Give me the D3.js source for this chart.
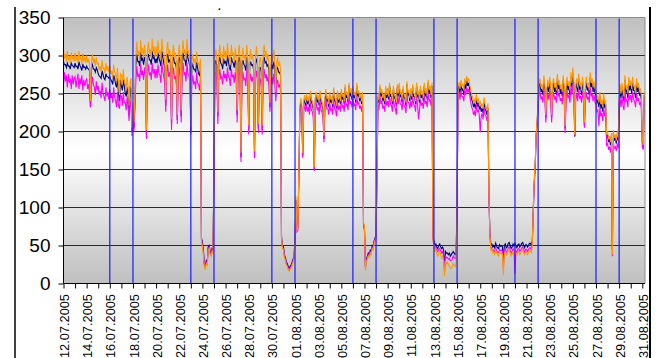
<!DOCTYPE html>
<html>
<head>
<meta charset="utf-8">
<script src="https://cdn.jsdelivr.net/npm/d3@7"></script>
<style>
  body { margin: 0; background: #fff; }
  svg text { font-family: "Liberation Sans", Arial, sans-serif; }
</style>
</head>
<body>
<div class="chart"></div>
<script>
// One row per day from 12.07.2005, readings every 2 hours (00h, 02h, ... 22h)
const startDate = "12.07.2005";
const stepHours = 2;

const orange = [
  [308, 296, 302, 292, 306, 294, 300, 290, 304, 295, 300, 292],
  [304, 293, 300, 290, 306, 295, 298, 288, 303, 292, 299, 290],
  [300, 291, 296, 288, 240, 292, 302, 290, 296, 286, 298, 289],
  [290, 281, 286, 278, 294, 283, 284, 276, 290, 280, 286, 278],
  [286, 276, 280, 270, 288, 278, 276, 266, 284, 262, 248, 276],
  [274, 262, 282, 268, 264, 254, 272, 258, 234, 266, 270, 205],
  [238, 212, 248, 296, 318, 300, 306, 294, 320, 302, 310, 296],
  [314, 300, 202, 306, 318, 302, 308, 296, 322, 304, 312, 298],
  [312, 298, 320, 304, 306, 294, 322, 305, 304, 292, 242, 306],
  [318, 300, 308, 296, 216, 302, 314, 298, 304, 292, 222, 300],
  [314, 298, 228, 304, 320, 302, 308, 294, 322, 304, 306, 294],
  [206, 292, 302, 290, 296, 286, 305, 292, 290, 282, 296, 56],
  [48, 38, 22, 18, 26, 24, 44, 46, 38, 36, 42, 40],
  [160, 302, 308, 294, 226, 300, 314, 298, 302, 290, 312, 298],
  [306, 294, 316, 300, 298, 288, 314, 300, 304, 292, 310, 296],
  [228, 298, 314, 300, 172, 296, 310, 296, 300, 288, 314, 298],
  [208, 294, 308, 295, 302, 290, 174, 298, 312, 296, 210, 292],
  [298, 286, 208, 300, 314, 298, 306, 294, 302, 288, 238, 290],
  [302, 290, 308, 294, 252, 290, 298, 286, 292, 282, 60, 46],
  [44, 34, 30, 24, 22, 18, 16, 19, 20, 24, 28, 32],
  [58, 115, 70, 72, 150, 232, 244, 236, 172, 240, 248, 238],
  [250, 240, 246, 236, 254, 242, 240, 232, 153, 244, 252, 242],
  [248, 238, 254, 242, 240, 232, 194, 244, 256, 244, 246, 236],
  [252, 242, 246, 236, 258, 244, 244, 234, 254, 242, 250, 240],
  [256, 246, 250, 240, 262, 248, 252, 242, 264, 250, 257, 246],
  [260, 248, 252, 242, 264, 250, 254, 244, 250, 240, 252, 80],
  [75, 17, 28, 32, 36, 34, 40, 38, 46, 44, 52, 56],
  [62, 150, 250, 242, 262, 250, 256, 244, 250, 240, 260, 248],
  [257, 246, 264, 250, 250, 240, 260, 248, 247, 238, 262, 250],
  [264, 250, 252, 242, 260, 248, 248, 238, 266, 252, 254, 244],
  [257, 246, 262, 250, 250, 240, 264, 250, 252, 242, 260, 248],
  [254, 244, 264, 250, 257, 246, 268, 254, 260, 248, 264, 56],
  [50, 42, 46, 38, 36, 40, 42, 38, 34, 36, 30, 10],
  [30, 26, 28, 24, 24, 20, 20, 22, 26, 24, 22, 26],
  [110, 262, 264, 256, 268, 260, 262, 254, 270, 262, 273, 266],
  [270, 262, 256, 248, 246, 238, 242, 236, 249, 240, 243, 236],
  [239, 232, 237, 230, 245, 236, 233, 228, 237, 120, 64, 44],
  [45, 40, 42, 38, 44, 40, 38, 36, 42, 40, 40, 38],
  [11, 40, 42, 38, 38, 44, 45, 40, 36, 38, 42, 40],
  [44, 40, 38, 42, 42, 38, 40, 44, 45, 40, 38, 42],
  [42, 38, 40, 44, 44, 40, 52, 100, 137, 160, 198, 215],
  [240, 266, 270, 258, 262, 254, 274, 260, 222, 256, 268, 258],
  [272, 260, 222, 262, 270, 258, 264, 254, 276, 262, 267, 256],
  [262, 252, 274, 260, 207, 258, 272, 260, 266, 254, 278, 264],
  [284, 266, 196, 262, 270, 258, 276, 262, 264, 254, 272, 260],
  [212, 260, 272, 260, 264, 254, 278, 264, 270, 258, 266, 256],
  [254, 244, 247, 238, 252, 236, 242, 232, 250, 238, 240, 196],
  [200, 190, 194, 186, 198, 38, 202, 192, 196, 188, 200, 192],
  [240, 262, 250, 264, 252, 246, 274, 258, 260, 250, 272, 260],
  [267, 256, 272, 260, 260, 250, 270, 258, 264, 254, 256, 248],
  [190, 182, 252]
];

const navy = [
  [292, 288, 288, 284, 290, 286, 286, 282, 290, 287, 286, 284],
  [290, 285, 286, 282, 292, 287, 284, 280, 289, 284, 285, 282],
  [286, 283, 282, 280, 232, 284, 288, 282, 282, 278, 284, 281],
  [276, 273, 272, 270, 280, 275, 270, 268, 276, 272, 272, 270],
  [272, 268, 266, 262, 274, 270, 262, 258, 270, 250, 240, 268],
  [260, 254, 268, 260, 250, 246, 258, 250, 226, 258, 256, 200],
  [228, 205, 238, 288, 302, 292, 292, 286, 304, 294, 296, 288],
  [298, 292, 196, 298, 302, 294, 294, 288, 306, 296, 298, 290],
  [296, 290, 304, 296, 292, 286, 306, 297, 290, 284, 234, 298],
  [302, 292, 294, 288, 210, 294, 298, 290, 290, 284, 215, 292],
  [298, 290, 220, 296, 304, 294, 294, 286, 306, 296, 292, 286],
  [201, 284, 288, 282, 282, 278, 291, 284, 276, 274, 282, 60],
  [54, 44, 26, 24, 30, 28, 48, 50, 42, 40, 46, 44],
  [150, 288, 294, 286, 220, 292, 298, 290, 288, 282, 296, 290],
  [292, 286, 300, 292, 284, 280, 298, 292, 290, 284, 294, 288],
  [222, 290, 298, 292, 166, 288, 294, 288, 286, 280, 298, 290],
  [202, 286, 292, 287, 288, 282, 168, 290, 296, 288, 204, 284],
  [284, 278, 202, 292, 298, 290, 292, 286, 288, 280, 232, 282],
  [288, 282, 292, 286, 246, 282, 284, 278, 278, 274, 62, 50],
  [48, 38, 34, 28, 26, 22, 20, 23, 24, 28, 32, 36],
  [60, 110, 72, 74, 145, 228, 240, 232, 168, 236, 244, 234],
  [246, 236, 242, 232, 250, 238, 236, 228, 150, 240, 248, 238],
  [244, 234, 250, 238, 236, 228, 190, 240, 252, 240, 242, 232],
  [248, 238, 242, 232, 254, 240, 240, 230, 250, 238, 246, 236],
  [252, 242, 246, 236, 258, 244, 248, 238, 260, 246, 253, 242],
  [256, 244, 248, 238, 260, 246, 250, 240, 246, 236, 248, 78],
  [72, 22, 32, 36, 40, 38, 44, 42, 50, 48, 56, 60],
  [64, 145, 246, 238, 258, 246, 252, 240, 246, 236, 256, 244],
  [253, 242, 260, 246, 246, 236, 256, 244, 243, 234, 258, 246],
  [260, 246, 248, 238, 256, 244, 244, 234, 262, 248, 250, 240],
  [253, 242, 258, 246, 246, 236, 260, 246, 248, 238, 256, 244],
  [250, 240, 260, 246, 253, 242, 264, 250, 256, 244, 260, 60],
  [56, 50, 52, 48, 46, 50, 52, 48, 46, 48, 44, 20],
  [42, 40, 40, 38, 40, 36, 38, 40, 42, 40, 38, 40],
  [105, 256, 260, 250, 262, 254, 256, 248, 264, 256, 267, 260],
  [264, 256, 250, 242, 240, 232, 236, 230, 243, 234, 237, 230],
  [233, 226, 231, 224, 239, 230, 227, 222, 231, 118, 66, 52],
  [52, 48, 50, 47, 53, 49, 47, 46, 51, 49, 50, 48],
  [30, 50, 52, 47, 48, 53, 54, 50, 46, 48, 52, 49],
  [53, 49, 47, 51, 52, 48, 50, 53, 54, 50, 47, 51],
  [51, 48, 50, 53, 53, 50, 56, 98, 132, 156, 195, 212],
  [236, 260, 264, 252, 256, 248, 268, 254, 218, 250, 262, 252],
  [266, 254, 218, 256, 264, 252, 258, 248, 270, 256, 261, 250],
  [256, 246, 268, 254, 204, 252, 266, 254, 260, 248, 272, 258],
  [277, 260, 193, 256, 264, 252, 270, 256, 258, 248, 266, 254],
  [208, 254, 266, 254, 258, 248, 272, 258, 264, 252, 260, 250],
  [248, 238, 241, 232, 246, 230, 236, 226, 244, 232, 234, 192],
  [196, 186, 190, 182, 194, 45, 198, 188, 192, 184, 196, 188],
  [236, 256, 244, 258, 246, 240, 268, 252, 254, 244, 266, 254],
  [261, 250, 266, 254, 254, 244, 264, 252, 258, 248, 250, 242],
  [186, 178, 248]
];

const magenta = [
  [262, 278, 266, 274, 258, 276, 264, 270, 256, 274, 262, 270],
  [272, 258, 268, 276, 256, 270, 262, 274, 254, 268, 260, 266],
  [270, 256, 262, 250, 232, 258, 272, 262, 258, 248, 266, 254],
  [260, 248, 254, 244, 264, 250, 246, 240, 258, 246, 252, 242],
  [256, 244, 250, 238, 258, 246, 240, 232, 252, 234, 230, 248],
  [246, 234, 252, 238, 238, 228, 246, 230, 214, 238, 240, 194],
  [220, 200, 230, 268, 286, 272, 276, 266, 288, 274, 280, 268],
  [284, 272, 190, 276, 288, 274, 278, 268, 290, 276, 282, 270],
  [282, 270, 288, 276, 274, 264, 292, 278, 272, 262, 226, 276],
  [288, 272, 278, 268, 202, 274, 284, 270, 272, 262, 210, 272],
  [284, 270, 212, 276, 290, 274, 278, 266, 290, 276, 274, 264],
  [196, 264, 274, 262, 266, 256, 278, 264, 262, 254, 272, 58],
  [50, 42, 24, 22, 28, 26, 46, 48, 40, 38, 44, 42],
  [140, 274, 278, 266, 210, 272, 282, 270, 272, 262, 280, 270],
  [276, 266, 284, 272, 270, 260, 282, 272, 274, 264, 278, 268],
  [212, 270, 282, 272, 160, 268, 278, 268, 270, 260, 282, 270],
  [196, 266, 276, 266, 272, 262, 165, 270, 280, 268, 198, 264],
  [270, 258, 196, 272, 282, 270, 276, 266, 272, 260, 226, 262],
  [272, 262, 276, 266, 240, 262, 268, 258, 262, 254, 58, 48],
  [46, 36, 32, 26, 24, 20, 18, 21, 22, 26, 30, 34],
  [56, 105, 68, 70, 140, 222, 232, 224, 165, 228, 234, 226],
  [236, 226, 232, 222, 240, 228, 226, 218, 148, 230, 238, 228],
  [232, 222, 240, 228, 226, 218, 186, 230, 242, 230, 230, 222],
  [238, 228, 230, 222, 244, 230, 228, 220, 240, 228, 234, 226],
  [242, 232, 234, 226, 248, 234, 236, 228, 250, 236, 240, 232],
  [244, 234, 236, 228, 248, 236, 238, 230, 234, 226, 236, 76],
  [70, 20, 30, 34, 38, 36, 42, 40, 48, 46, 54, 58],
  [60, 140, 236, 228, 248, 236, 240, 230, 234, 226, 244, 234],
  [240, 232, 248, 236, 234, 226, 244, 234, 230, 222, 246, 236],
  [248, 236, 236, 228, 244, 234, 232, 224, 250, 238, 238, 230],
  [240, 232, 246, 236, 234, 226, 248, 236, 216, 228, 242, 234],
  [238, 230, 248, 236, 240, 232, 252, 240, 242, 234, 248, 58],
  [53, 46, 48, 43, 42, 45, 46, 43, 40, 42, 38, 15],
  [36, 34, 34, 32, 33, 30, 30, 32, 36, 34, 33, 35],
  [100, 248, 252, 242, 254, 246, 246, 240, 256, 248, 258, 252],
  [256, 248, 240, 232, 230, 222, 226, 220, 236, 226, 228, 222],
  [199, 220, 224, 216, 232, 222, 220, 214, 226, 115, 63, 48],
  [46, 42, 44, 41, 47, 43, 41, 40, 45, 43, 44, 42],
  [20, 43, 46, 41, 42, 47, 48, 44, 40, 42, 46, 43],
  [13, 43, 41, 45, 46, 42, 44, 47, 48, 44, 41, 45],
  [45, 42, 44, 47, 47, 44, 54, 96, 132, 154, 196, 210],
  [230, 250, 252, 242, 246, 238, 256, 244, 212, 240, 250, 242],
  [254, 244, 212, 244, 252, 242, 246, 238, 258, 246, 250, 240],
  [244, 236, 256, 244, 198, 240, 254, 244, 248, 238, 260, 248],
  [262, 248, 194, 242, 250, 240, 256, 244, 246, 238, 252, 242],
  [205, 242, 252, 242, 246, 238, 258, 246, 250, 240, 248, 238],
  [236, 226, 228, 207, 232, 220, 224, 214, 232, 220, 226, 182],
  [184, 176, 180, 172, 182, 36, 186, 178, 180, 174, 184, 178],
  [226, 244, 232, 246, 234, 228, 254, 240, 242, 232, 250, 242],
  [248, 238, 252, 242, 240, 232, 250, 240, 244, 236, 238, 230],
  [180, 176, 240]
];

// Saturdays and Mondays marked with blue lines
const markerDates = [
  "16.07.2005", "18.07.2005", "23.07.2005", "25.07.2005",
  "30.07.2005", "01.08.2005", "06.08.2005", "08.08.2005",
  "13.08.2005", "15.08.2005", "20.08.2005", "22.08.2005",
  "27.08.2005", "29.08.2005"
];

const tickLabels = [
  "12.07.2005", "14.07.2005", "16.07.2005", "18.07.2005", "20.07.2005",
  "22.07.2005", "24.07.2005", "26.07.2005", "28.07.2005", "30.07.2005",
  "01.08.2005", "03.08.2005", "05.08.2005", "07.08.2005", "09.08.2005",
  "11.08.2005", "13.08.2005", "15.08.2005", "17.08.2005", "19.08.2005",
  "21.08.2005", "23.08.2005", "25.08.2005", "27.08.2005", "29.08.2005",
  "31.08.2005"
];

const yTicks = [0, 50, 100, 150, 200, 250, 300, 350];

// Layout
const W = 658, H = 358;
const plot = { left: 63.5, right: 645, top: 17.5, bottom: 283.5 };

const parse = d3.timeParse("%d.%m.%Y");
const fmt = d3.timeFormat("%d.%m.%Y");
const t0 = parse(startDate);
const tEnd = parse("31.08.2005");

const svg = d3.select(".chart").append("svg")
  .attr("width", W)
  .attr("height", H);

// Scales
const xScale = d3.scaleTime()
  .domain([t0, tEnd])
  .range([plot.left, 642.3]);

const yScale = d3.scaleLinear()
  .domain([0, 350])
  .range([plot.bottom, plot.top]);

// Background gradient of the plot area
const defs = svg.append("defs");
const grad = defs.append("linearGradient")
  .attr("id", "bg")
  .attr("x1", 0).attr("y1", 0).attr("x2", 0).attr("y2", 1);
grad.append("stop").attr("offset", "0%").attr("stop-color", "#bfbfbf");
grad.append("stop").attr("offset", "50%").attr("stop-color", "#ffffff");
grad.append("stop").attr("offset", "100%").attr("stop-color", "#bfbfbf");

defs.append("clipPath").attr("id", "clip")
  .append("rect")
  .attr("x", plot.left).attr("y", plot.top)
  .attr("width", plot.right - plot.left)
  .attr("height", plot.bottom - plot.top);

svg.append("rect")
  .attr("x", plot.left).attr("y", plot.top)
  .attr("width", plot.right - plot.left)
  .attr("height", plot.bottom - plot.top)
  .attr("fill", "url(#bg)");

// Gridlines
svg.append("g")
  .attr("class", "grid")
  .selectAll("line")
  .data(yTicks.filter(v => v > 0 && v < 350))
  .join("line")
  .attr("x1", plot.left).attr("x2", plot.right)
  .attr("y1", d => yScale(d)).attr("y2", d => yScale(d))
  .attr("stroke", "#2b2b2b")
  .attr("stroke-width", 1);

// Series: each row is one day, readings stepHours apart
const toPoints = rows => rows.flatMap((row, day) =>
  row.map((v, j) => ({
    date: d3.timeHour.offset(d3.timeDay.offset(t0, day), j * stepHours),
    value: v
  })));

const line = d3.line()
  .x(d => xScale(d.date))
  .y(d => yScale(d.value));

const series = [
  { name: "navy", values: navy, color: "#000080" },
  { name: "magenta", values: magenta, color: "#ff00ff" },
  { name: "orange", values: orange, color: "#ff9900" }
];

svg.append("g")
  .attr("clip-path", "url(#clip)")
  .selectAll("path")
  .data(series)
  .join("path")
  .attr("d", d => line(toPoints(d.values)))
  .attr("fill", "none")
  .attr("stroke", d => d.color)
  .attr("stroke-width", 1.1);

// Blue marker lines
svg.append("g")
  .selectAll("line")
  .data(markerDates.map(parse))
  .join("line")
  .attr("x1", d => xScale(d)).attr("x2", d => xScale(d))
  .attr("y1", plot.top + 1).attr("y2", plot.bottom)
  .attr("stroke", "#1a1aff")
  .attr("stroke-width", 1.2);

// Plot border: top and right grey
svg.append("path")
  .attr("d", `M${plot.left},${plot.top}H${plot.right}V${plot.bottom}`)
  .attr("fill", "none")
  .attr("stroke", "#8c8c8c")
  .attr("stroke-width", 1);

// Y axis
const yAxis = d3.axisLeft(yScale)
  .tickValues(yTicks)
  .tickSize(5)
  .tickPadding(8);

const yAxisG = svg.append("g")
  .attr("class", "axis y-axis")
  .attr("transform", `translate(${plot.left},0)`)
  .call(yAxis);
yAxisG.select(".domain").remove();
yAxisG.selectAll("line").attr("stroke", "#000");
yAxisG.selectAll("text")
  .attr("font-size", 19)
  .attr("fill", "#000");

svg.append("line")
  .attr("x1", plot.left).attr("x2", plot.left)
  .attr("y1", plot.top).attr("y2", plot.bottom)
  .attr("stroke", "#000");

// X axis: a tick every day, a label every second day
const labelSet = new Set(tickLabels);
const days = d3.timeDay.range(t0, d3.timeDay.offset(tEnd, 1));

const xAxis = d3.axisBottom(xScale)
  .tickValues(days)
  .tickSize(5)
  .tickFormat(d => labelSet.has(fmt(d)) ? fmt(d) : "");

const xAxisG = svg.append("g")
  .attr("class", "axis x-axis")
  .attr("transform", `translate(0,${plot.bottom})`)
  .call(xAxis);
xAxisG.select(".domain").remove();
xAxisG.selectAll("line").attr("stroke", "#000");
xAxisG.selectAll("text")
  .attr("font-size", 12.8)
  .attr("fill", "#000")
  .attr("text-anchor", "end")
  .attr("transform", "rotate(-90)")
  .attr("x", -10.5)
  .attr("y", 0)
  .attr("dy", "0.4em");

svg.append("line")
  .attr("x1", plot.left).attr("x2", plot.right)
  .attr("y1", plot.bottom).attr("y2", plot.bottom)
  .attr("stroke", "#000");

// Chart frame edges and the clipped title mark
svg.append("line")
  .attr("x1", 15).attr("x2", 15).attr("y1", 7).attr("y2", H)
  .attr("stroke", "#000").attr("stroke-width", 1.5);
svg.append("line")
  .attr("x1", 650).attr("x2", 650).attr("y1", 7).attr("y2", H)
  .attr("stroke", "#000").attr("stroke-width", 2);

svg.append("text")
  .attr("x", 218).attr("y", 10)
  .attr("font-size", 10)
  .attr("font-weight", "bold")
  .text(".");
</script>
</body>
</html>
